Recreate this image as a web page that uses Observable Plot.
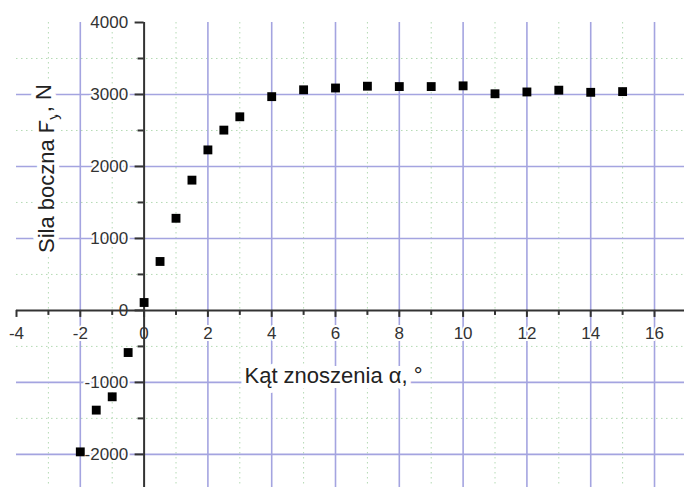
<!DOCTYPE html>
<html>
<head>
<meta charset="utf-8">
<script src="https://cdn.jsdelivr.net/npm/d3@7"></script>
<script src="https://cdn.jsdelivr.net/npm/@observablehq/plot@0.6"></script>
<style>
  html, body { margin: 0; padding: 0; background: #fff; }
  #chart svg { display: block; }
</style>
</head>
<body>
<div id="chart"></div>
<script>
// Data
const angles = [-2, -1.5, -1, -0.5, 0, 0.5, 1, 1.5, 2, 2.5, 3, 4, 5, 6, 7, 8, 9, 10, 11, 12, 13, 14, 15];
const forces = [-1965, -1385, -1200, -585, 110, 680, 1280, 1810, 2230, 2505, 2690, 2970, 3065, 3090, 3115, 3110, 3110, 3120, 3010, 3035, 3060, 3030, 3040];

// Ticks and grid
const xTicks = [-4, -2, 0, 2, 4, 6, 8, 10, 12, 14, 16];
const xMinorTicks = [-3, -1, 1, 3, 5, 7, 9, 11, 13, 15];
const xGrid = [-2, 2, 4, 6, 8, 10, 12, 14, 16];
const yTicks = [-2000, -1000, 0, 1000, 2000, 3000, 4000];
const yMinorTicks = [-1500, -500, 500, 1500, 2500, 3500];
const yGrid = [-2000, -1000, 1000, 2000, 3000];

const xTitle = "Kąt znoszenia α, °";
const yTitle = "Sila boczna Fy, N";

const data = angles.map((a, i) => ({angle: a, force: forces[i]}));

const font = "'Liberation Sans', Arial, Helvetica, sans-serif";
const ink = "#333333";
const majorGrid = "#a4a4e0";
const minorGrid = "#b4dab4";

const chart = Plot.plot({
  width: 684,
  height: 487,
  marginLeft: 16,
  marginRight: 0,
  marginTop: 22,
  marginBottom: 0,
  style: {fontFamily: font, background: "white"},
  x: {domain: [-4, 16.94], axis: null},
  y: {domain: [-2460, 4000], axis: null},
  marks: [
    // minor grid (dotted green)
    Plot.ruleX(xMinorTicks, {x: d => d, stroke: minorGrid, strokeWidth: 1, strokeDasharray: "1.5,3.5"}),
    Plot.ruleY(yMinorTicks, {y: d => d, stroke: minorGrid, strokeWidth: 1, strokeDasharray: "1.5,3.5"}),
    // major grid (lavender)
    Plot.ruleX(xGrid, {x: d => d, stroke: majorGrid, strokeWidth: 1.6}),
    Plot.ruleY(yGrid, {y: d => d, stroke: majorGrid, strokeWidth: 1.6}),
    // tick labels
    Plot.text(xTicks, {x: d => d, y: 0, dy: 23, text: d => String(d), fontSize: 17, fill: ink,
      stroke: "white", strokeWidth: 4}),
    Plot.text(yTicks, {x: 0, y: d => d, dx: -16, textAnchor: "end", text: d => String(d), fontSize: 17, fill: ink,
      stroke: "white", strokeWidth: 4}),
    // axis lines crossing at origin
    Plot.ruleX([0], {x: d => d, stroke: ink, strokeWidth: 2}),
    Plot.ruleY([0], {y: d => d, stroke: ink, strokeWidth: 2}),
    // x ticks (below axis)
    Plot.ruleX(xTicks, {x: d => d, y1: 0, y2: 0, insetBottom: -7, stroke: ink, strokeWidth: 2}),
    Plot.ruleX(xMinorTicks, {x: d => d, y1: 0, y2: 0, insetBottom: -5, stroke: ink, strokeWidth: 2}),
    // y ticks (left of axis)
    Plot.ruleY(yTicks, {y: d => d, x1: 0, x2: 0, insetLeft: -9, stroke: ink, strokeWidth: 2}),
    Plot.ruleY(yMinorTicks, {y: d => d, x1: 0, x2: 0, insetLeft: -6, stroke: ink, strokeWidth: 2}),
    // axis titles
    Plot.text([xTitle], {frameAnchor: "bottom", dx: -17, dy: -105, text: d => d, fontSize: 22, fill: "#222",
      stroke: "white", strokeWidth: 10}),
    Plot.text([yTitle], {frameAnchor: "left", dx: 30, dy: -2, rotate: -90, textAnchor: "start", text: d => d,
      fontSize: 22, fill: "#222", stroke: "white", strokeWidth: 10}),
    // data points
    Plot.dot(data, {x: "angle", y: "force", symbol: "square", r: 5, fill: "black", stroke: "none"})
  ]
});

document.getElementById("chart").appendChild(chart);

// Subscript "y" in the y-axis title
d3.select(chart).selectAll("text").each(function() {
  if (this.textContent === yTitle) {
    const t = d3.select(this);
    t.text(null);
    t.append("tspan").text("Sila boczna F");
    t.append("tspan").attr("dy", "0.3em").attr("font-size", "15").text("y");
    t.append("tspan").attr("dy", "-0.3em").text(", N");
  }
});
</script>
</body>
</html>
